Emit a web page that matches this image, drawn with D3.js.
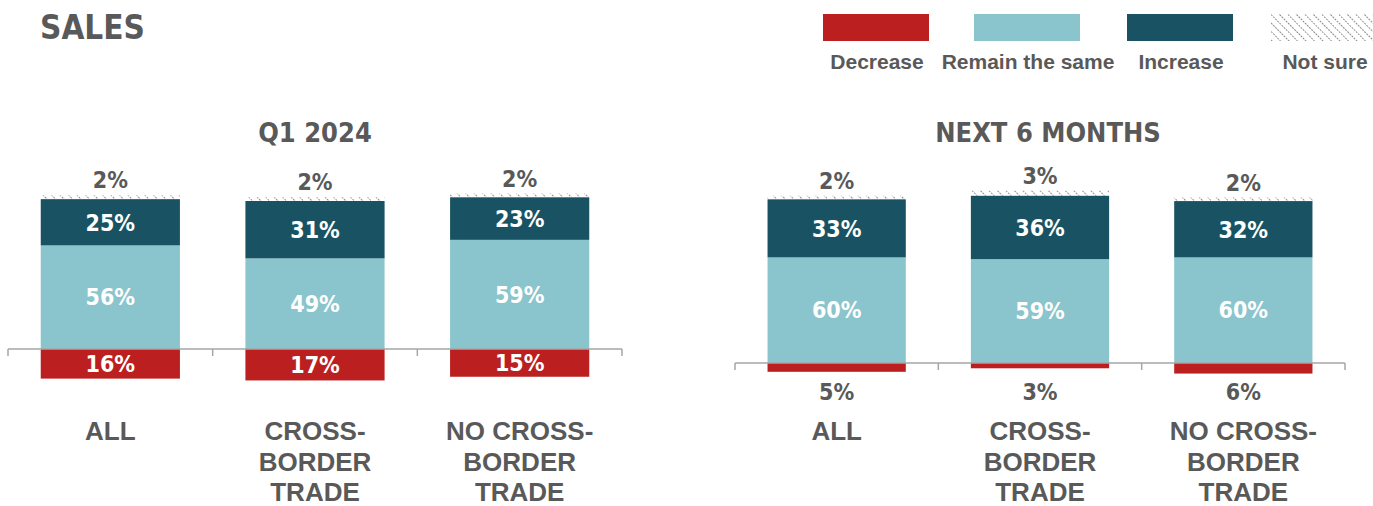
<!DOCTYPE html>
<html>
<head>
<meta charset="utf-8">
<script src="https://cdn.jsdelivr.net/npm/d3@7"></script>
<style>
  body { margin: 0; background: #fff; }
  .num { font-family: "DejaVu Sans Condensed", "DejaVu Sans", sans-serif; font-stretch: condensed; font-weight: bold; }
  .cat { font-family: "Liberation Sans", Arial, sans-serif; font-weight: bold; fill: #595959; }
</style>
</head>
<body>
<div id="chart"></div>
<script>
// categories and values
var categories = ["ALL", "CROSS-BORDER TRADE", "NO CROSS-BORDER TRADE"];
var catLines = [["ALL"], ["CROSS-", "BORDER", "TRADE"], ["NO CROSS-", "BORDER", "TRADE"]];
var q1Decrease = [16, 17, 15];
var q1Same = [56, 49, 59];
var q1Increase = [25, 31, 23];
var q1NotSure = [2, 2, 2];
var nextDecrease = [5, 3, 6];
var nextSame = [60, 59, 60];
var nextIncrease = [33, 36, 32];
var nextNotSure = [2, 3, 2];
var legendLabels = ["Decrease", "Remain the same", "Increase", "Not sure"];

var width = 1373, height = 506;
var grey = "#595959";
var colors = { dec: "#bb1f1f", same: "#8ac5cd", inc: "#195363" };

var svg = d3.select("#chart").append("svg")
  .attr("width", width).attr("height", height);

// hatch pattern for "not sure"
var defs = svg.append("defs");
var pat = defs.append("pattern").attr("id", "hatch")
  .attr("patternUnits", "userSpaceOnUse").attr("width", 6).attr("height", 6)
  .attr("patternTransform", "rotate(-45)");
pat.append("line").attr("x1", 0).attr("y1", 0).attr("x2", 0).attr("y2", 6)
  .attr("stroke", "#8f8f8f").attr("stroke-width", 2).attr("stroke-dasharray", "2,1");

// title
svg.append("text").attr("class", "num").attr("x", 40).attr("y", 39)
  .attr("font-size", 33).attr("fill", grey).text("SALES");

// legend
var legendX = [823, 974, 1127, 1271];
var legendFill = [colors.dec, colors.same, colors.inc, "url(#hatch)"];
legendLabels.forEach(function(lbl, i) {
  svg.append("rect").attr("x", legendX[i]).attr("y", 14)
    .attr("width", 106).attr("height", 27).attr("fill", legendFill[i]);
  svg.append("text").attr("class", "cat").attr("x", legendX[i] + 54).attr("y", 69)
    .attr("text-anchor", "middle").attr("font-size", 21).text(lbl);
});

function drawPanel(opt) {
  var g = svg.append("g");
  var x = d3.scaleBand().domain(categories).range(opt.xRange)
    .paddingInner(0.32).paddingOuter(0.16);
  var y = d3.scaleLinear().domain([0, 100]).range([opt.base, opt.base - opt.pxPer * 100]);
  var y0 = y(0);

  g.append("text").attr("class", "num").attr("x", opt.titleX)
    .attr("y", opt.titleY).attr("text-anchor", "middle").attr("font-size", 27)
    .attr("fill", grey).text(opt.title);

  var rows = categories.map(function(c, i) {
    return { cat: c, lines: catLines[i], dec: opt.dec[i], same: opt.same[i],
             inc: opt.inc[i], ns: opt.ns[i] };
  });

  var bars = g.selectAll("g.bar").data(rows).enter().append("g").attr("class", "bar");
  var bw = x.bandwidth();

  // decrease below baseline
  bars.append("rect").attr("x", function(d) { return x(d.cat); })
    .attr("y", y0).attr("width", bw)
    .attr("height", function(d) { return y(0) - y(d.dec); })
    .attr("fill", colors.dec);
  // remain the same
  bars.append("rect").attr("x", function(d) { return x(d.cat); })
    .attr("y", function(d) { return y(d.same); }).attr("width", bw)
    .attr("height", function(d) { return y0 - y(d.same); })
    .attr("fill", colors.same);
  // increase
  bars.append("rect").attr("x", function(d) { return x(d.cat); })
    .attr("y", function(d) { return y(d.same + d.inc); }).attr("width", bw)
    .attr("height", function(d) { return y(d.same) - y(d.same + d.inc); })
    .attr("fill", colors.inc);
  // not sure
  bars.append("rect").attr("x", function(d) { return x(d.cat); })
    .attr("y", function(d) { return y(d.same + d.inc + d.ns); }).attr("width", bw)
    .attr("height", function(d) { return y(d.same + d.inc) - y(d.same + d.inc + d.ns); })
    .attr("fill", "url(#hatch)");

  var cx = function(d) { return x(d.cat) + bw / 2; };
  // labels
  bars.append("text").attr("class", "num").attr("x", cx)
    .attr("y", function(d) { return (y0 + y(d.same)) / 2; }).attr("dy", "0.36em")
    .attr("text-anchor", "middle").attr("font-size", 23).attr("fill", "#fff")
    .text(function(d) { return d.same + "%"; });
  bars.append("text").attr("class", "num").attr("x", cx)
    .attr("y", function(d) { return (y(d.same) + y(d.same + d.inc)) / 2; }).attr("dy", "0.36em")
    .attr("text-anchor", "middle").attr("font-size", 23).attr("fill", "#fff")
    .text(function(d) { return d.inc + "%"; });
  bars.append("text").attr("class", "num").attr("x", cx)
    .attr("y", function(d) { return y(d.same + d.inc + d.ns) - 7; })
    .attr("text-anchor", "middle").attr("font-size", 23).attr("fill", grey)
    .text(function(d) { return d.ns + "%"; });
  bars.append("text").attr("class", "num").attr("x", cx)
    .attr("y", function(d) { return opt.decInside ? (y0 + y(-d.dec)) / 2 : y0 + 29; })
    .attr("dy", "0.36em")
    .attr("text-anchor", "middle").attr("font-size", 23)
    .attr("fill", opt.decInside ? "#fff" : grey)
    .text(function(d) { return d.dec + "%"; });

  // baseline with ticks between categories
  g.append("line").attr("x1", opt.xRange[0]).attr("x2", opt.xRange[1])
    .attr("y1", y0).attr("y2", y0).attr("stroke", "#a6a6a6").attr("stroke-width", 1.5);
  var step = x.step();
  d3.range(categories.length + 1).forEach(function(i) {
    var tx = opt.xRange[0] + i * step;
    g.append("line").attr("x1", tx).attr("x2", tx).attr("y1", y0).attr("y2", y0 + 7)
      .attr("stroke", "#a6a6a6").attr("stroke-width", 1.5);
  });

  // category labels
  var cats = bars.append("text").attr("class", "cat").attr("text-anchor", "middle")
    .attr("font-size", 26);
  cats.selectAll("tspan").data(function(d) { return d.lines.map(function(l) { return { l: l, x: cx(d) }; }); })
    .enter().append("tspan")
    .attr("x", function(t) { return t.x; })
    .attr("y", function(t, i) { return 440 + i * 30.5; })
    .text(function(t) { return t.l; });
}

drawPanel({ title: "Q1 2024", titleX: 315, titleY: 142, xRange: [8, 622], base: 349, pxPer: 1.85,
  dec: q1Decrease, same: q1Same, inc: q1Increase, ns: q1NotSure, decInside: true });
drawPanel({ title: "NEXT 6 MONTHS", titleX: 1048, titleY: 142, xRange: [735, 1345], base: 363, pxPer: 1.76,
  dec: nextDecrease, same: nextSame, inc: nextIncrease, ns: nextNotSure, decInside: false });
</script>
</body>
</html>
